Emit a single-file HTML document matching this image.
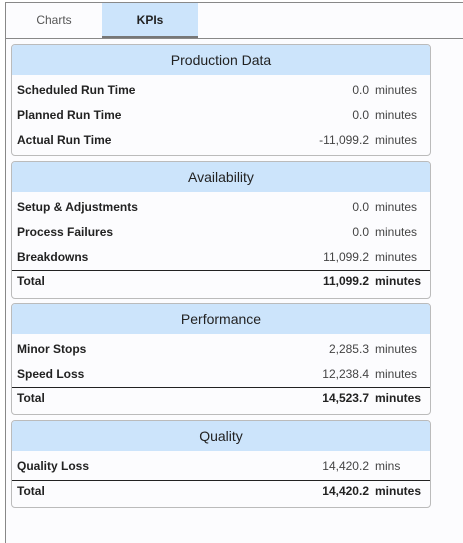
<!DOCTYPE html>
<html><head><meta charset="utf-8"><style>
body{margin:0;width:463px;height:534px;background:#fff;font-family:"Liberation Sans",sans-serif;position:relative;overflow:hidden}
.frame{position:absolute;left:5px;top:2px;width:470px;height:540px;border-left:1px solid #888;border-top:1px solid #888;background:#fcfcfe}
.tab{position:absolute;top:3px;height:34px;line-height:34px;text-align:center;font-size:12px}
.sep{position:absolute;left:6px;top:38px;width:457px;height:1px;background:#888}
.card{position:absolute;left:11px;width:418px;border:1px solid #bbb;border-radius:4px;background:#fcfcfe;overflow:hidden}
.hd{height:30px;line-height:30px;background:#cce4fb;text-align:center;font-size:14px;color:#222}
.row{position:absolute;left:0;right:0;height:25px;font-size:12px;color:#222}
.row .l{position:absolute;left:5px;top:6px;font-weight:bold}
.row .v{position:absolute;right:61px;top:6px;color:#444}
.row .u{position:absolute;left:363px;top:6px;color:#444}
.row.t{border-top:1px solid #222}
.row.t .v,.row.t .u{font-weight:bold;color:#222}
</style></head><body>
<div class="frame"></div>
<div class="tab" style="left:6px;width:96px;color:#555">Charts</div>
<div class="tab" style="left:102px;width:96px;background:#cce4fb;font-weight:bold;color:#222;border-bottom:2px solid #777;height:33px">KPIs</div>
<div class="sep"></div>

<div class="card" style="top:44px;height:110px">
<div class="hd">Production Data</div>
<div class="row" style="top:32px"><span class="l">Scheduled Run Time</span><span class="v">0.0</span><span class="u">minutes</span></div>
<div class="row" style="top:57px"><span class="l">Planned Run Time</span><span class="v">0.0</span><span class="u">minutes</span></div>
<div class="row" style="top:82px"><span class="l">Actual Run Time</span><span class="v">-11,099.2</span><span class="u">minutes</span></div>
</div>

<div class="card" style="top:161px;height:136px">
<div class="hd">Availability</div>
<div class="row" style="top:32px"><span class="l">Setup &amp; Adjustments</span><span class="v">0.0</span><span class="u">minutes</span></div>
<div class="row" style="top:57px"><span class="l">Process Failures</span><span class="v">0.0</span><span class="u">minutes</span></div>
<div class="row" style="top:82px"><span class="l">Breakdowns</span><span class="v">11,099.2</span><span class="u">minutes</span></div>
<div class="row t" style="top:108px"><span class="l" style="top:3px">Total</span><span class="v" style="top:3px">11,099.2</span><span class="u" style="top:3px">minutes</span></div>
</div>

<div class="card" style="top:303px;height:110px">
<div class="hd">Performance</div>
<div class="row" style="top:32px"><span class="l">Minor Stops</span><span class="v">2,285.3</span><span class="u">minutes</span></div>
<div class="row" style="top:57px"><span class="l">Speed Loss</span><span class="v">12,238.4</span><span class="u">minutes</span></div>
<div class="row t" style="top:83px"><span class="l" style="top:3px">Total</span><span class="v" style="top:3px">14,523.7</span><span class="u" style="top:3px">minutes</span></div>
</div>

<div class="card" style="top:420px;height:86px">
<div class="hd">Quality</div>
<div class="row" style="top:32px"><span class="l">Quality Loss</span><span class="v">14,420.2</span><span class="u">mins</span></div>
<div class="row t" style="top:59px"><span class="l" style="top:3px">Total</span><span class="v" style="top:3px">14,420.2</span><span class="u" style="top:3px">minutes</span></div>
</div>
</body></html>
